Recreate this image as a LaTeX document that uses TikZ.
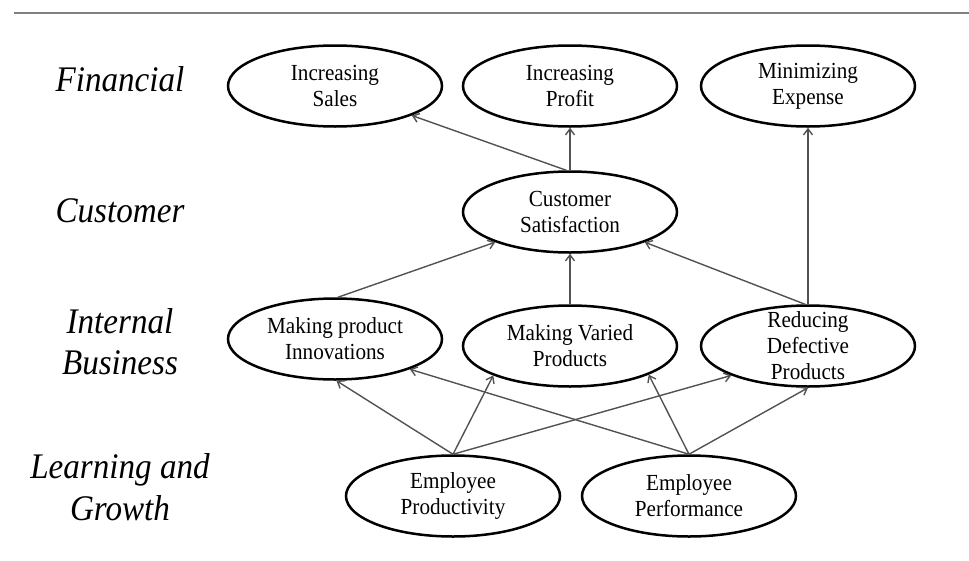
\documentclass[tikz,border=0pt]{standalone}
\usepackage{fontspec}
\setmainfont{Liberation Serif}[FakeStretch=0.92]
\usetikzlibrary{shapes.geometric,arrows.meta}
\tikzset{
  oval/.style={ellipse, draw=black, line width=2.5pt, minimum width=214pt, minimum height=81pt, inner sep=0pt},
  ovaltext/.style={align=center, font=\fontsize{23}{26}\selectfont, inner sep=0pt},
  rowlabel/.style={anchor=base, font=\fontsize{36}{41}\selectfont\itshape, inner sep=0pt},
  link/.style={draw=black!68, line width=1.4pt, -{Straight Barb[length=6pt,width=9pt]}},
  rule/.style={draw=black!50, line width=2pt}
}
\newcommand\ovalnode[3]{\node[oval] (#1) at (#2) {}; \node[ovaltext] (#1T) at (#1.center) {#3};}
\begin{document}
\begin{tikzpicture}[x=1pt,y=-1pt]
\useasboundingbox (0,0) rectangle (969,560);
% top rule
\coordinate (ruleL) at (14,13);
\coordinate (ruleR) at (969,13);
\draw[rule] (ruleL) -- (ruleR);
% row labels
\node[rowlabel] (fin)  at (120,91)  {Financial};
\node[rowlabel] (cust) at (120,222) {Customer};
\node[rowlabel] (int1) at (120,333) {Internal};
\node[rowlabel] (int2) at (120,374) {Business};
\node[rowlabel] (lg1)  at (120,478) {Learning and};
\node[rowlabel] (lg2)  at (120,520) {Growth};
% ovals
\ovalnode{sales}{335,86}{Increasing\\Sales}
\ovalnode{profit}{570,86}{Increasing\\Profit}
\ovalnode{expense}{808,86}{Minimizing\\Expense}
\ovalnode{cs}{570,212}{Customer\\Satisfaction}
\ovalnode{innov}{335,339}{Making product\\Innovations}
\ovalnode{varied}{570,346}{Making Varied\\Products}
\ovalnode{defect}{808,346}{Reducing\\Defective\\Products}
\ovalnode{prod}{453,496}{Employee\\Productivity}
\ovalnode{perf}{689,496}{Employee\\Performance}
% links
\draw[link] (cs.95) -- (sales.-21);
\draw[link] (cs.north) -- (profit.south);
\draw[link] (defect.north) -- (expense.south);
\draw[link] (innov.86) -- (cs.202);
\draw[link] (varied.north) -- (cs.south);
\draw[link] (defect.94) -- (cs.-22);
\draw[link] (prod.north) -- (innov.-88);
\draw[link] (prod.north) -- (varied.201);
\draw[link] (prod.north) -- (defect.201);
\draw[link] (perf.north) -- (innov.-22);
\draw[link] (perf.north) -- (varied.-20);
\draw[link] (perf.north) -- (defect.south);
\end{tikzpicture}
\end{document}
